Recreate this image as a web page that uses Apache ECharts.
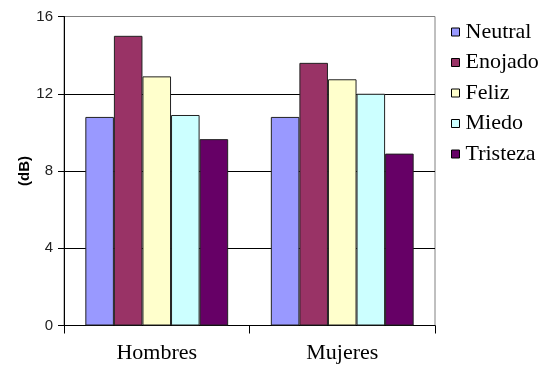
<!DOCTYPE html>
<html>
<head>
<meta charset="utf-8">
<script src="https://cdn.jsdelivr.net/npm/echarts@6/dist/echarts.min.js"></script>
<style>
  html, body { margin: 0; padding: 0; background: #fff; }
  #chart { width: 538px; height: 373px; }
</style>
</head>
<body>
<div id="chart"></div>
<script>
// Intensidad media de la voz (dB) por emoción y sexo
const groups = ['Hombres', 'Mujeres'];
const emotions = ['Neutral', 'Enojado', 'Feliz', 'Miedo', 'Tristeza'];
const neutral  = [10.8, 10.8];
const enojado  = [15.0, 13.6];
const feliz    = [12.9, 12.75];
const miedo    = [10.9, 12.0];
const tristeza = [9.65, 8.9];
const colors = ['#9999FF', '#993366', '#FFFFCC', '#CCFFFF', '#660066'];
const yTicks = { min: 0, max: 16, step: 4 };

const values = [neutral, enojado, feliz, miedo, tristeza];
const serif = '"Liberation Serif", "Times New Roman", serif';
const sans = '"Liberation Sans", Arial, sans-serif';

const chart = echarts.init(document.getElementById('chart'), null, { renderer: 'canvas' });

chart.setOption({
  animation: false,
  backgroundColor: '#fff',
  grid: {
    left: 64, right: 103, top: 16.5, bottom: 47.5,
    show: true, borderColor: '#808080', borderWidth: 1, backgroundColor: 'transparent'
  },
  legend: {
    orient: 'vertical',
    left: 446, top: 16,
    itemWidth: 8, itemHeight: 8, itemGap: 8.5,
    icon: 'rect',
    itemStyle: { borderColor: '#000', borderWidth: 1 },
    textStyle: { fontFamily: serif, fontSize: 22, lineHeight: 22, color: '#000', padding: [0, 0, 0, 1] },
    data: emotions
  },
  xAxis: {
    type: 'category',
    data: groups,
    axisLine: { lineStyle: { color: '#000', width: 1 } },
    axisTick: { show: true, length: 8, lineStyle: { color: '#000' } },
    axisLabel: { fontFamily: serif, fontSize: 22, color: '#000', margin: 17 }
  },
  yAxis: {
    type: 'value',
    min: yTicks.min, max: yTicks.max, interval: yTicks.step,
    name: '(dB)',
    nameLocation: 'middle',
    nameRotate: 90,
    nameGap: 32,
    nameMoveOverlap: false,
    nameTextStyle: { fontFamily: sans, fontSize: 15, fontWeight: 'bold', color: '#000' },
    axisLine: { show: true, lineStyle: { color: '#000', width: 1 } },
    axisTick: { show: true, length: 6, lineStyle: { color: '#000' } },
    axisLabel: { fontFamily: sans, fontSize: 15, color: '#222', margin: 11 },
    splitLine: { lineStyle: { color: ['#000', '#000', '#000', '#000', '#808080'], width: 1 } }
  },
  series: emotions.map((name, i) => ({
    name,
    type: 'bar',
    data: values[i],
    barGap: '0%',
    barCategoryGap: '23%',
    itemStyle: { color: colors[i], borderColor: '#222', borderWidth: 1 }
  }))
});
</script>
</body>
</html>
